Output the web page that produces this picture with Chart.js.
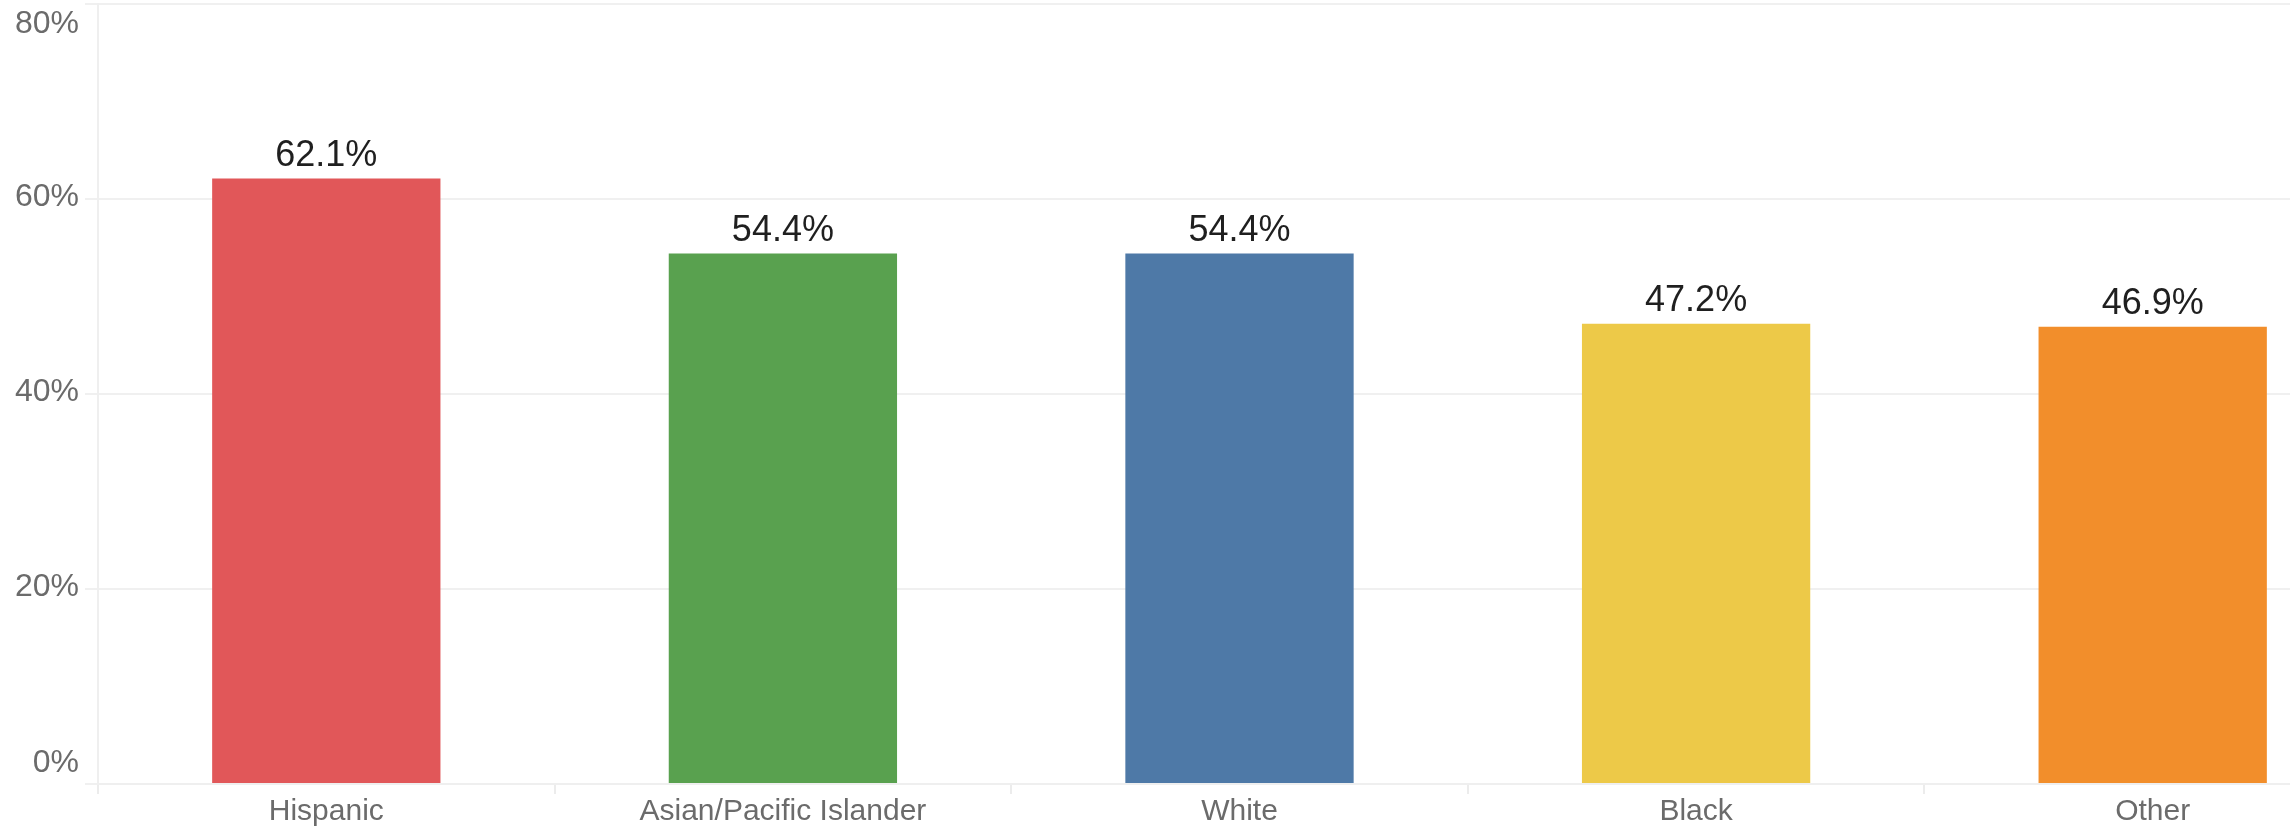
<!DOCTYPE html>
<html>
<head>
<title>Share by group</title>
<script src="https://cdn.jsdelivr.net/npm/chart.js"></script>
<style>
  body { margin: 0; overflow: hidden; background: #fff; }
  #wrap { width: 2381px; height: 826px; }
</style>
</head>
<body>
<div id="wrap"><canvas id="groupChart" width="2381" height="826"></canvas></div>
<script>
const categories = ['Hispanic', 'Asian/Pacific Islander', 'White', 'Black', 'Other'];
const shares = [62.1, 54.4, 54.4, 47.2, 46.9];
const barColors = ['#e15759', '#59a14f', '#4e79a7', '#edc948', '#f28e2b'];
const yTicks = [0, 20, 40, 60, 80];

const fontFamily = '"Liberation Sans", Arial, sans-serif';
Chart.defaults.font.family = fontFamily;

// value text above each bar
const valueLabels = {
    id: 'valueLabels',
    afterDatasetsDraw(chart) {
        const ctx = chart.ctx;
        const meta = chart.getDatasetMeta(0);
        ctx.save();
        ctx.font = '36px ' + fontFamily;
        ctx.fillStyle = '#1f1f1f';
        ctx.textAlign = 'center';
        ctx.textBaseline = 'alphabetic';
        meta.data.forEach((bar, i) => {
            ctx.fillText(shares[i].toFixed(1) + '%', bar.x, bar.y - 13);
        });
        ctx.restore();
    }
};

// y labels drawn by hand: top and bottom ones are pulled inside the plot like the original
const yLabels = {
    id: 'yLabels',
    afterDraw(chart) {
        const y = chart.scales.y;
        const ctx = chart.ctx;
        ctx.save();
        ctx.font = '32px ' + fontFamily;
        ctx.fillStyle = '#6b6b6b';
        ctx.textAlign = 'right';
        ctx.textBaseline = 'middle';
        yTicks.forEach(v => {
            let py = y.getPixelForValue(v);
            if (v === y.min) py -= 21;
            else if (v === y.max) py += 20;
            else py -= 2;
            ctx.fillText(v + '%', y.right - 19, py);
        });
        ctx.restore();
    }
};

new Chart(document.getElementById('groupChart'), {
    type: 'bar',
    data: {
        labels: categories,
        datasets: [{
            data: shares,
            backgroundColor: barColors,
            borderWidth: 0,
            categoryPercentage: 1,
            barPercentage: 0.5
        }]
    },
    options: {
        responsive: false,
        animation: false,
        layout: { padding: { top: 4, left: 0, right: 0, bottom: 0 } },
        plugins: {
            legend: { display: false },
            tooltip: { enabled: false }
        },
        scales: {
            x: {
                offset: true,
                grid: { offset: true, drawOnChartArea: false, tickLength: 10, color: '#ececec', lineWidth: 2 },
                border: { color: '#efefef', width: 2 },
                ticks: {
                    color: '#6b6b6b',
                    font: { size: 30, lineHeight: 1 },
                    padding: 3,
                    maxRotation: 0,
                    autoSkip: false
                },
                afterFit: s => { s.height = 42; }
            },
            y: {
                min: 0,
                max: 80,
                afterBuildTicks: s => { s.ticks = yTicks.map(v => ({ value: v })); },
                ticks: { display: false },
                grid: { color: '#f0f0f0', lineWidth: 2, tickLength: 13 },
                border: { color: '#efefef', width: 2 },
                afterFit: s => { s.width = 98; }
            }
        }
    },
    plugins: [valueLabels, yLabels]
});
</script>
</body>
</html>
